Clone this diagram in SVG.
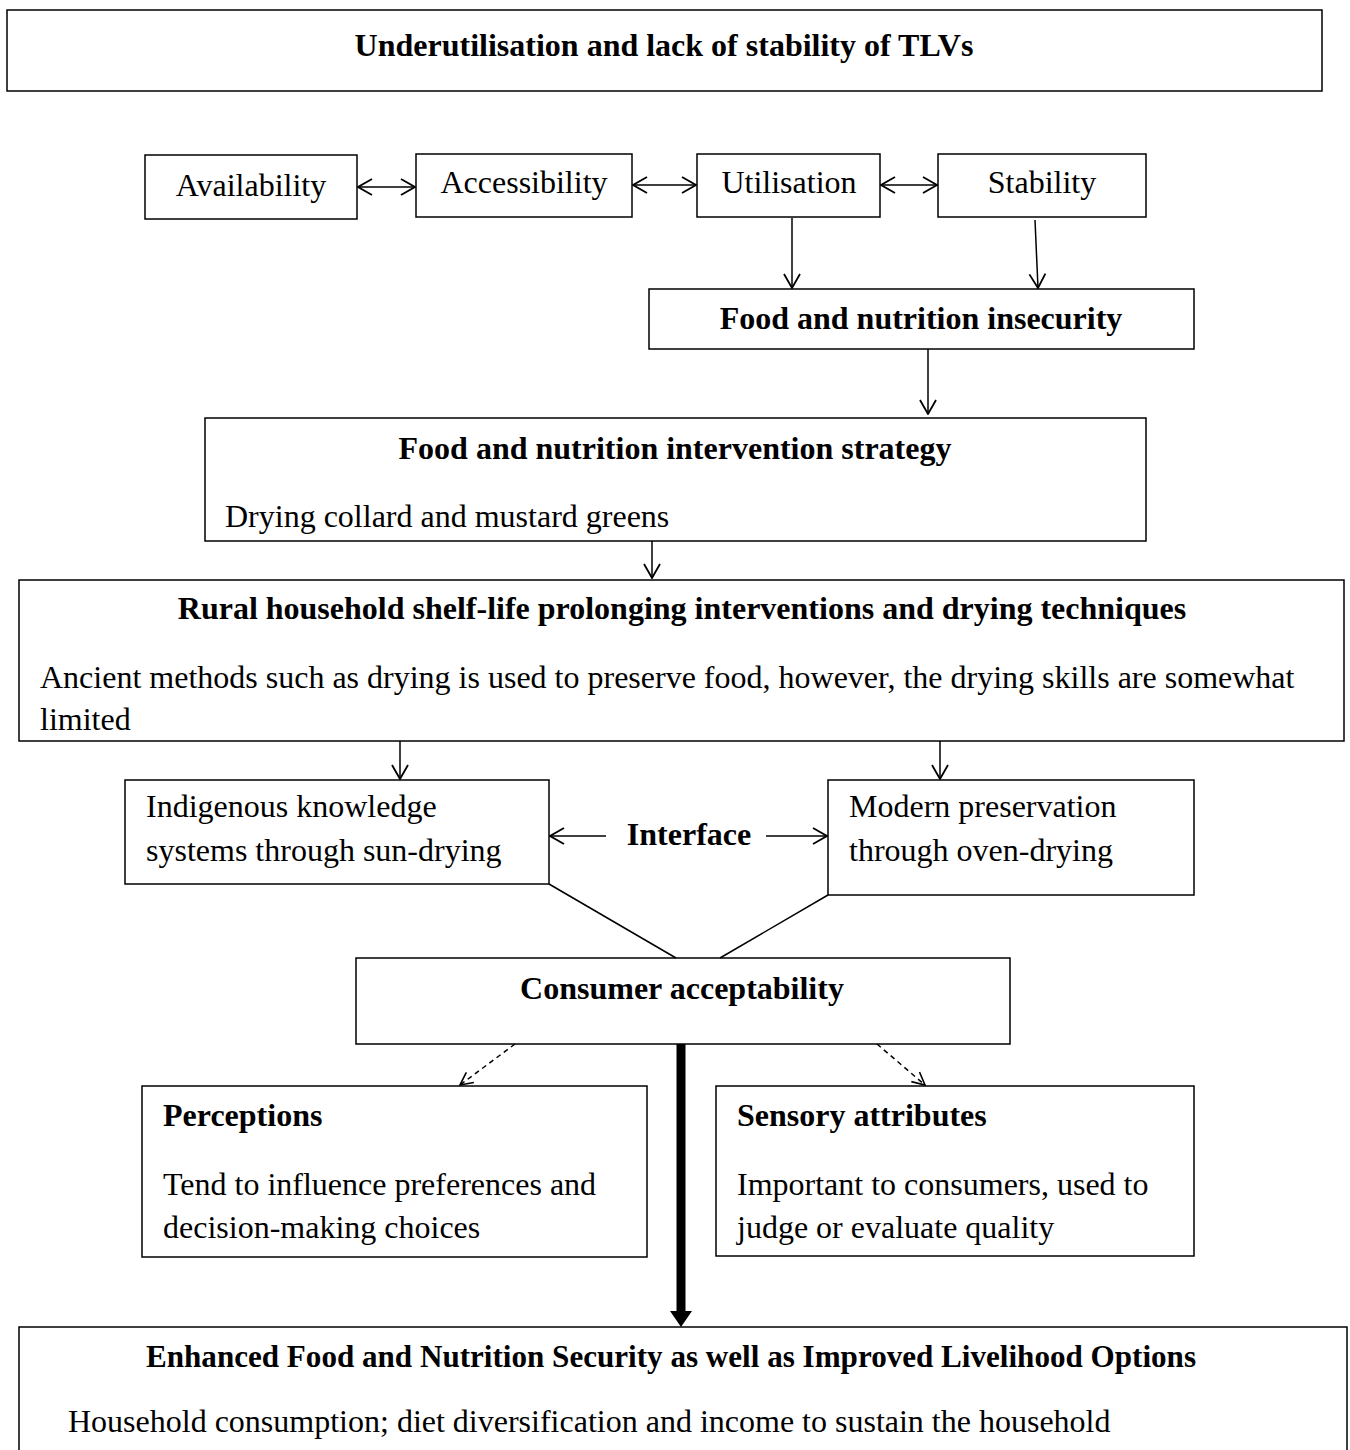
<svg xmlns="http://www.w3.org/2000/svg" width="1350" height="1450" viewBox="0 0 1350 1450">
<style>
rect{fill:#fff;stroke:#000;stroke-width:1.5}
text{font-family:"Liberation Serif","Times New Roman",serif;font-size:32px;fill:#000}
.b{font-weight:bold}
.c{text-anchor:middle}
.ln{stroke:#000;stroke-width:1.5;fill:none}
.ar{stroke:#000;stroke-width:1.5;fill:none;marker-end:url(#ah)}
.da{stroke:#000;stroke-width:1.5;fill:none;stroke-dasharray:5,4;marker-end:url(#ah2)}
.dbl{stroke:#000;stroke-width:1.5;fill:none;marker-start:url(#as);marker-end:url(#ah)}
</style>
<defs>
<marker id="ah" viewBox="0 0 20 20" refX="19" refY="10" markerWidth="20" markerHeight="20" markerUnits="userSpaceOnUse" orient="auto"><path d="M5,2 L19,10 L5,18" fill="none" stroke="#000" stroke-width="1.8"/></marker>
<marker id="as" viewBox="0 0 20 20" refX="1" refY="10" markerWidth="20" markerHeight="20" markerUnits="userSpaceOnUse" orient="auto"><path d="M15,2 L1,10 L15,18" fill="none" stroke="#000" stroke-width="1.8"/></marker>
<marker id="ah2" viewBox="0 0 20 20" refX="19" refY="10" markerWidth="18" markerHeight="18" markerUnits="userSpaceOnUse" orient="auto"><path d="M5,3 L19,10 L5,17" fill="none" stroke="#000" stroke-width="1.8"/></marker>
</defs>
<g id="n-top"><rect x="7" y="10" width="1315" height="81"/><text class="b c" x="664" y="56">Underutilisation and lack of stability of TLVs</text></g>
<g id="n-avail"><rect x="145" y="155" width="212" height="64"/><text class="c" x="251" y="196">Availability</text></g>
<g id="n-access"><rect x="416" y="154" width="216" height="63"/><text class="c" x="524" y="193">Accessibility</text></g>
<g id="n-util"><rect x="697" y="154" width="183" height="63"/><text class="c" x="789" y="193">Utilisation</text></g>
<g id="n-stab"><rect x="938" y="154" width="208" height="63"/><text class="c" x="1042" y="193">Stability</text></g>
<g id="n-insec"><rect x="649" y="289" width="545" height="60"/><text class="b c" x="921" y="329">Food and nutrition insecurity</text></g>
<g id="n-strat"><rect x="205" y="418" width="941" height="123"/><text class="b c" x="675" y="459">Food and nutrition intervention strategy</text><text x="225" y="527">Drying collard and mustard greens</text></g>
<g id="n-rural"><rect x="19" y="580" width="1325" height="161"/><text class="b c" x="682" y="619">Rural household shelf-life prolonging interventions and drying techniques</text><text x="40" y="688">Ancient methods such as drying is used to preserve food, however, the drying skills are somewhat</text><text x="40" y="730">limited</text></g>
<g id="n-indig"><rect x="125" y="780" width="424" height="104"/><text x="146" y="817">Indigenous knowledge</text><text x="146" y="861">systems through sun-drying</text></g>
<g id="n-modern"><rect x="828" y="780" width="366" height="115"/><text x="849" y="817">Modern preservation</text><text x="849" y="861">through oven-drying</text></g>
<g id="n-interface"><text class="b c" x="689" y="845">Interface</text></g>
<g id="n-consumer"><rect x="356" y="958" width="654" height="86"/><text class="b c" x="682" y="999">Consumer acceptability</text></g>
<g id="n-percep"><rect x="142" y="1086" width="505" height="171"/><text class="b" x="163" y="1126">Perceptions</text><text x="163" y="1195">Tend to influence preferences and</text><text x="163" y="1238">decision-making choices</text></g>
<g id="n-sensory"><rect x="716" y="1086" width="478" height="170"/><text class="b" x="737" y="1126">Sensory attributes</text><text x="737" y="1195">Important to consumers, used to</text><text x="737" y="1238">judge or evaluate quality</text></g>
<g id="n-enh"><rect x="19" y="1327" width="1328" height="140"/><text class="b c" x="671" y="1367" textLength="1050" lengthAdjust="spacingAndGlyphs">Enhanced Food and Nutrition Security as well as Improved Livelihood Options</text><text x="68" y="1432">Household consumption; diet diversification and income to sustain the household</text></g>
<g id="connectors">
<path class="dbl" d="M358,187 H415"/>
<path class="dbl" d="M633,185 H696"/>
<path class="dbl" d="M881,185 H937"/>
<path class="ar" d="M792,218 V288"/>
<path class="ar" d="M1035,220 L1038,288"/>
<path class="ar" d="M928,349 V414"/>
<path class="ar" d="M652,541 V578"/>
<path class="ar" d="M400,741 V779"/>
<path class="ar" d="M940,741 V779"/>
<path class="ar" d="M606,836 H550"/>
<path class="ar" d="M766,836 H827"/>
<path class="ln" d="M549,884 L676,958"/>
<path class="ln" d="M828,895 L720,958"/>
<path class="da" d="M515,1044 L460,1085"/>
<path class="da" d="M877,1044 L925,1085"/>
<path d="M681,1044 V1312" stroke="#000" stroke-width="9" fill="none"/>
<path d="M670,1311 L692,1311 L681,1327 Z" fill="#000"/>
</g>
</svg>
